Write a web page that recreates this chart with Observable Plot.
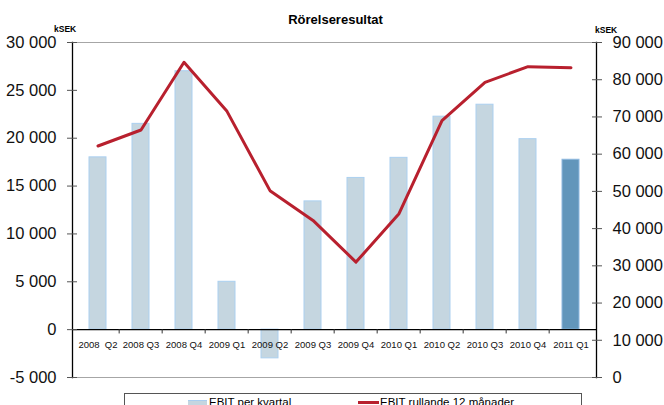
<!DOCTYPE html>
<html>
<head>
<meta charset="utf-8">
<script src="https://cdn.jsdelivr.net/npm/d3@7"></script>
<script src="https://cdn.jsdelivr.net/npm/@observablehq/plot@0.6"></script>
<style>
  body { margin: 0; background: #fff; font-family: Arial, "Liberation Sans", sans-serif; }
  #wrap { position: relative; width: 664px; height: 405px; overflow: hidden; }
  .ov { position: absolute; white-space: nowrap; color: #000; }
  #title { left: 0; width: 671px; top: 12px; text-align: center; font-weight: bold; font-size: 13px; }
  .ksek { font-weight: bold; font-size: 8.5px; }
  #legend { left: 124px; top: 393px; width: 458px; height: 30px; border: 1px solid #555; box-sizing: border-box; }
  .lg { font-size: 11.5px; top: 396px; }
</style>
</head>
<body>
<div id="wrap">
  <div id="chart"></div>
  <div class="ov" id="title">Rörelseresultat</div>
  <div class="ov ksek" style="left:54px; top:24px;">kSEK</div>
  <div class="ov ksek" style="left:595px; top:25px;">kSEK</div>
  <div class="ov" id="legend"></div>
  <div class="ov" style="left:188px; top:400px; width:19px; height:10px; background:#c5d6e0; border-top:1px solid #a9cdef;"></div>
  <div class="ov lg" style="left:209px;">EBIT per kvartal</div>
  <div class="ov" style="left:358px; top:401px; width:21px; height:3px; background:#b8202e;"></div>
  <div class="ov lg" style="left:380px;">EBIT rullande 12 månader</div>
</div>
<script>
const categories = ["2008  Q2","2008 Q3","2008 Q4","2009 Q1","2009 Q2","2009 Q3","2009 Q4","2010 Q1","2010 Q2","2010 Q3","2010 Q4","2011 Q1"];
const ebitQuarter = [18000, 21500, 27000, 5000, -3000, 13400, 15850, 17950, 22250, 23500, 19900, 17750];
const ebitRolling = [62200, 66500, 84700, 71500, 50200, 42200, 31000, 44000, 69000, 79300, 83500, 83200];
const leftTicks = [-5000, 0, 5000, 10000, 15000, 20000, 25000, 30000];
const rightTicks = [0, 10000, 20000, 30000, 40000, 50000, 60000, 70000, 80000, 90000];

const leftMin = -5000, leftMax = 30000, rightMax = 90000;
const toLeft = v => leftMin + v / rightMax * (leftMax - leftMin);
const fromLeft = v => (v - leftMin) / (leftMax - leftMin) * rightMax;

const fmt = d3.formatLocale({thousands: " ", grouping: [3], decimal: ",", currency: ["", ""], minus: "-"}).format(",");

const bars = categories.map((c, i) => ({c, v: ebitQuarter[i], last: i === categories.length - 1}));
const line = categories.map((c, i) => ({c, v: toLeft(ebitRolling[i])}));

const W = 664, H = 405, mL = 72, mR = 68;
const step = (W - mL - mR) / categories.length;

const chart = Plot.plot({
  width: W, height: H,
  marginTop: 42, marginBottom: 28, marginLeft: mL, marginRight: mR,
  style: {fontFamily: "Arial, 'Liberation Sans', sans-serif", background: "white"},
  x: {domain: categories, paddingInner: 0.6, paddingOuter: 0.3, axis: null},
  y: {domain: [leftMin, leftMax], axis: null},
  marks: [
    Plot.ruleY([leftMin, leftMax], {stroke: "#a6a6a6", strokeWidth: 1.2}),
    Plot.barY(bars, {x: "c", y: "v", fill: d => d.last ? "#6296bb" : "#c5d6e0", stroke: d => d.last ? "#8db8e0" : "#abd0f0", strokeWidth: 1}),
    Plot.ruleY([0], {stroke: "#000", strokeWidth: 1.2}),
    Plot.ruleX(categories.slice(1), {x: d => d, y1: 0, y2: -450, dx: -step / 2, stroke: "#333"}),
    Plot.text(categories, {x: d => d, y: 0, dy: 15, text: d => d, fontSize: 9.5, fill: "#111"}),
    Plot.lineY(line, {x: "c", y: "v", stroke: "#b8202e", strokeWidth: 3}),
    Plot.frame({anchor: "left", stroke: "#000", strokeWidth: 1.3}),
    Plot.frame({anchor: "right", stroke: "#000", strokeWidth: 1.3}),
    Plot.axisY(leftTicks, {anchor: "left", label: null, tickSize: 10, dx: 5, tickFormat: () => "", stroke: "#555"}),
    Plot.axisY(leftTicks, {anchor: "left", label: null, tickSize: 0, tickPadding: 16, tickFormat: fmt, fontSize: 16.5, fill: "#111"}),
    Plot.axisY(rightTicks.map(toLeft), {anchor: "right", label: null, tickSize: 10, dx: -5, tickFormat: () => "", stroke: "#555"}),
    Plot.axisY(rightTicks.map(toLeft), {anchor: "right", label: null, tickSize: 0, tickPadding: 16, tickFormat: d => fmt(Math.round(fromLeft(d))), fontSize: 16.5, fill: "#111"})
  ]
});
document.getElementById("chart").appendChild(chart);
</script>
</body>
</html>
